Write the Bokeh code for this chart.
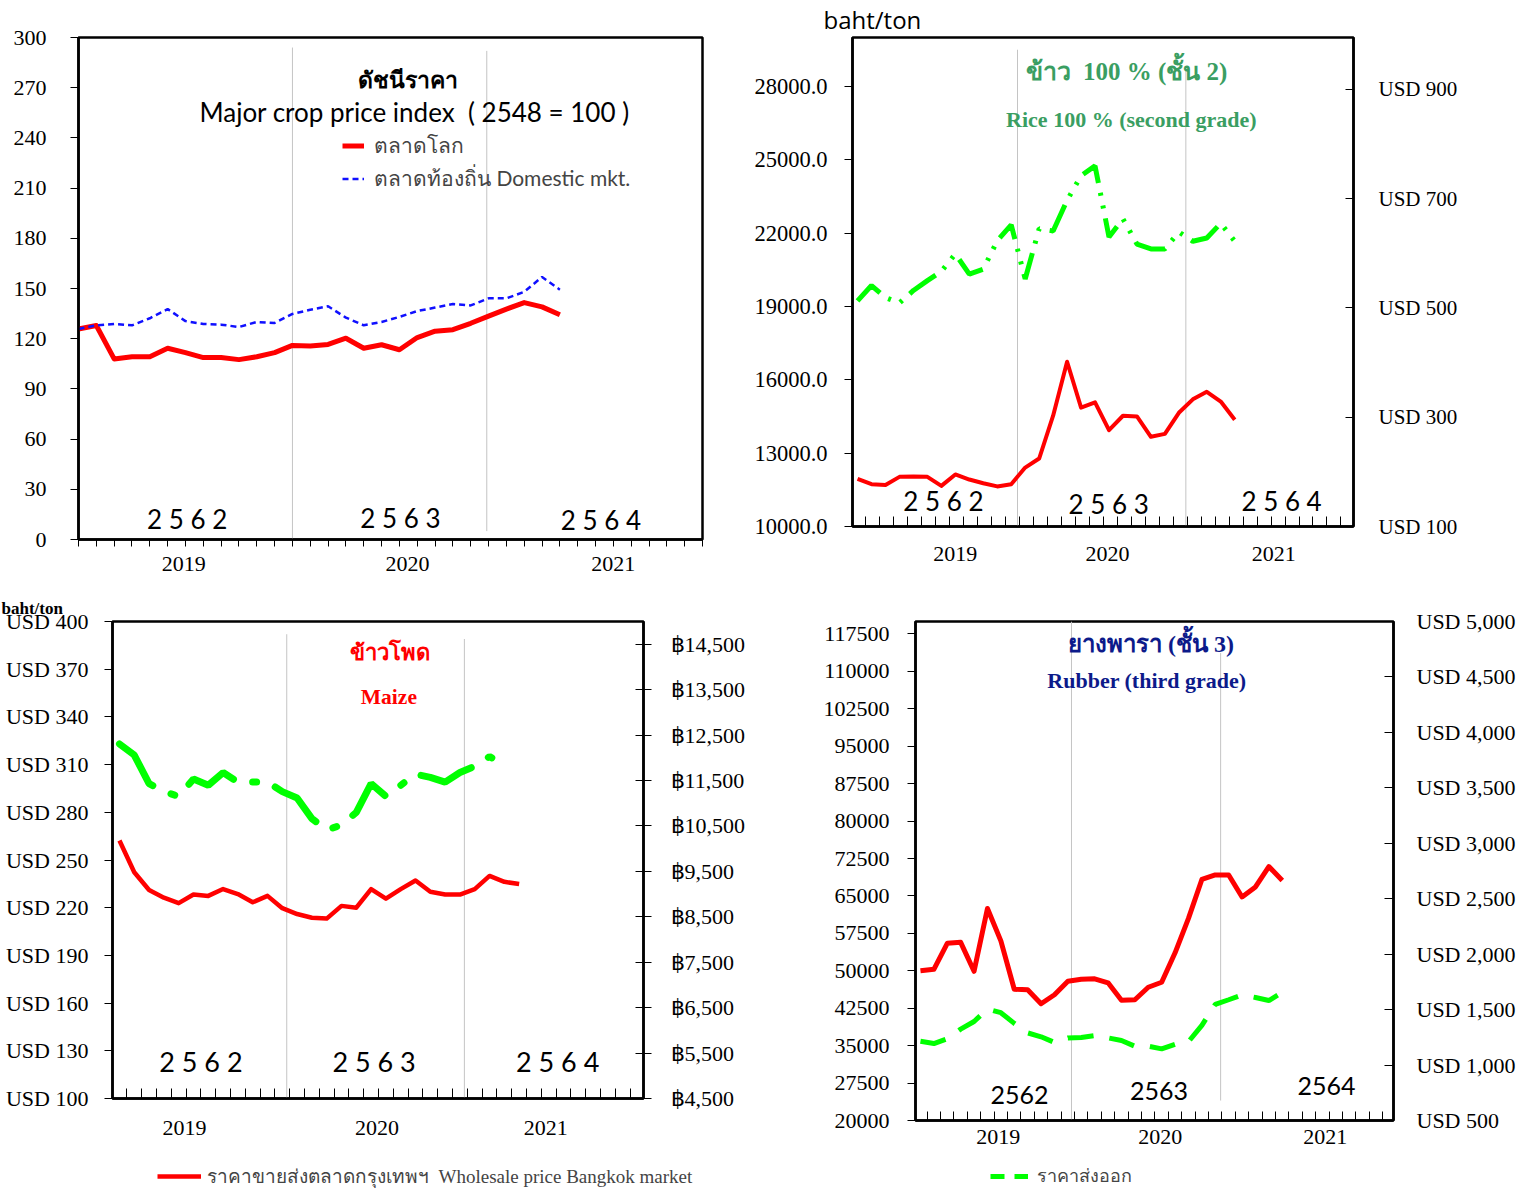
from bokeh.plotting import figure
from bokeh.models import (Range1d, LinearAxis, FixedTicker, Legend, LegendItem,
                          PrintfTickFormatter)
from bokeh.layouts import row, column
from bokeh.embed import file_html
from bokeh.resources import INLINE
from bokeh.core.properties import value

# ---------------- data ----------------
months = list(range(28))          # monthly points, first = start of series

fiscal_labels = ["2 5 6 2", "2 5 6 3", "2 5 6 4"]
fiscal_labels_rubber = ["2562", "2563", "2564"]
year_labels = ["2019", "2020", "2021"]

# Panel 1: major crop price index (2548 = 100)
index_world = [125.8, 127.9, 107.9, 109.2, 109.2, 114.3, 111.7, 108.7, 108.7, 107.5,
               109.2, 111.7, 116.0, 115.6, 116.6, 120.3, 114.3, 116.4, 113.4, 120.7,
               124.5, 125.4, 129.2, 133.5, 137.7, 141.6, 139.0, 134.3]
index_domestic = [125.8, 128.0, 128.8, 128.0, 132.2, 137.7, 130.5, 128.8, 128.4, 127.0,
                  130.0, 129.4, 134.8, 137.3, 139.4, 132.6, 128.0, 130.0, 133.0, 136.5,
                  138.6, 140.7, 139.9, 144.1, 144.1, 148.0, 156.9, 149.3]
index_ticks = [0, 30, 60, 90, 120, 150, 180, 210, 240, 270, 300]

# Panel 2: rice 100% (second grade)
rice_wholesale_baht = [11950, 11730, 11700, 12030, 12040, 12030, 11660, 12130, 11920, 11770,
                       11640, 11730, 12410, 12780, 14530, 16740, 14860, 15080, 13940, 14530,
                       14500, 13670, 13790, 14650, 15200, 15510, 15110, 14370]
rice_export_usd = [513, 541, 519, 509, 532, 550, 567, 599, 562, 571,
                   623, 652, 553, 645, 641, 697, 742, 760, 630, 663,
                   617, 608, 608, 639, 622, 628, 655, 622]
rice_baht_ticks = [10000, 13000, 16000, 19000, 22000, 25000, 28000]
rice_usd_ticks = [100, 300, 500, 700, 900]
rice_usd_labels = ["USD 100", "USD 300", "USD 500", "USD 700", "USD 900"]

# Panel 3: maize
maize_wholesale_baht = [10180, 9480, 9090, 8920, 8800, 8990, 8960, 9110, 9000, 8820,
                        8960, 8690, 8560, 8480, 8460, 8740, 8700, 9110, 8900, 9110,
                        9300, 9050, 8990, 8990, 9110, 9400, 9270, 9220]
maize_export_usd = [323, 316, 298, 293, 290, 301, 297, 305, 299, 299,
                    299, 293, 289, 276, 269, 272, 280, 298, 290, 297,
                    304, 302, 299, 305, 309, 315, 310]
maize_usd_ticks = [100, 130, 160, 190, 220, 250, 280, 310, 340, 370, 400]
maize_usd_labels = ["USD 100", "USD 130", "USD 160", "USD 190", "USD 220", "USD 250",
                    "USD 280", "USD 310", "USD 340", "USD 370", "USD 400"]
maize_baht_ticks = [4500, 5500, 6500, 7500, 8500, 9500, 10500, 11500, 12500, 13500, 14500]
maize_baht_labels = ["฿4,500", "฿5,500", "฿6,500", "฿7,500", "฿8,500", "฿9,500",
                     "฿10,500", "฿11,500", "฿12,500", "฿13,500", "฿14,500"]

# Panel 4: rubber (third grade)
rubber_wholesale_baht = [50000, 50300, 55500, 55700, 49900, 62500, 56000, 46300, 46200, 43400,
                         45200, 47900, 48300, 48400, 47600, 44100, 44200, 46700, 47700, 53600,
                         60500, 68300, 69200, 69200, 64800, 66800, 70900, 68100]
rubber_export_usd = [1214, 1194, 1238, 1324, 1393, 1506, 1472, 1376, 1290, 1255,
                     1204, 1245, 1249, 1266, 1245, 1221, 1170, 1170, 1146, 1187,
                     1211, 1358, 1547, 1589, 1633, 1609, 1582, 1657]
rubber_baht_ticks = [20000, 27500, 35000, 42500, 50000, 57500, 65000, 72500, 80000,
                     87500, 95000, 102500, 110000, 117500]
rubber_usd_ticks = [500, 1000, 1500, 2000, 2500, 3000, 3500, 4000, 4500, 5000]
rubber_usd_labels = ["USD 500", "USD 1,000", "USD 1,500", "USD 2,000", "USD 2,500",
                     "USD 3,000", "USD 3,500", "USD 4,000", "USD 4,500", "USD 5,000"]

wholesale_label = "ราคาขายส่งตลาดกรุงเทพฯ\u00a0\u00a0Wholesale price Bangkok market"
export_label = "ราคาส่งออก"

# ---------------- style ----------------
SERIF = "Liberation Serif"
SANS = "Lato"
OSANS = "Open Sans"
RED = "#ff0000"
GREEN = "#00ff00"
SEP = "#c4c4c4"
NB = "\u00a0"
RUBBER_DASH = "26 16"


def base_fig(fw, fh, bl, br, bt, bb, xr, yr):
    p = figure(frame_width=fw, frame_height=fh, min_border_left=bl, min_border_right=br,
               min_border_top=bt, min_border_bottom=bb,
               x_range=Range1d(*xr), y_range=Range1d(*yr),
               output_backend="svg", toolbar_location=None, tools="")
    p.grid.visible = False
    p.outline_line_color = "black"
    p.outline_line_width = 2.5
    p.outline_line_alpha = 1.0
    p.background_fill_color = "white"
    p.border_fill_color = "white"
    return p


def style_axis(ax, ticks, minor=None, overrides=None, tin=0, tout=8, standoff=18,
               size="22px"):
    ax.ticker = FixedTicker(ticks=ticks, minor_ticks=minor or [])
    if overrides:
        ax.major_label_overrides = overrides
    ax.major_tick_in = tin
    ax.major_tick_out = tout
    ax.minor_tick_in = 0
    ax.minor_tick_out = 0
    ax.major_label_standoff = standoff
    ax.major_label_text_font = SERIF
    ax.major_label_text_font_size = size
    ax.major_label_text_color = "black"
    ax.axis_line_color = "black"
    ax.axis_line_width = 2.5
    ax.major_tick_line_color = "black"
    ax.major_tick_line_width = 1
    ax.minor_tick_line_color = "black"
    ax.minor_tick_line_width = 1


def xaxis_years(p, pos, minor, tick_in, tick_out, standoff):
    ax = p.below[0]
    style_axis(ax, pos, minor=minor, overrides=dict(zip(pos, year_labels)),
               tin=0, tout=0, standoff=standoff, size="22px")
    ax.minor_tick_in = tick_in
    ax.minor_tick_out = tick_out


def texts(p, xs, ys, labels, font, size, color="black", bold=False, y_range_name="default"):
    p.text(x=xs, y=ys, text=labels, text_font=value(font), text_font_size=size,
           text_color=color, text_font_style="bold" if bold else "normal",
           text_align="center", text_baseline="middle", y_range_name=y_range_name)


def unit_title(p, text, font, size, bold, offset, standoff):
    p.title.text = text
    p.title.align = "left"
    p.title.vertical_align = "top"
    p.title.offset = offset
    p.title.standoff = standoff
    p.title.text_font = font
    p.title.text_font_size = size
    p.title.text_font_style = "bold" if bold else "normal"
    p.title.text_color = "black"


def legend_strip(width, height):
    f = figure(width=width, height=height, min_border=0, x_range=Range1d(0, 1),
               y_range=Range1d(0, 1), x_axis_location=None, y_axis_location=None,
               output_backend="svg", toolbar_location=None, tools="")
    f.grid.visible = False
    f.outline_line_color = None
    f.background_fill_color = "white"
    f.border_fill_color = "white"
    return f


# ================= Panel 1: price index =================
p1 = base_fig(624, 502, 78, 38, 37, 51, (0, 35), (0, 300))
style_axis(p1.left[0], index_ticks, tout=8, standoff=24)
xaxis_years(p1, [5.9, 18.45, 30.0], list(range(36)), 0, 7, 10)
p1.segment(x0=[12, 22.9], y0=[0, 5], x1=[12, 22.9], y1=[294, 292], color=SEP, line_width=1)
r_world = p1.line(months, index_world, color=RED, line_width=5, line_join="round")
r_dom = p1.line(months, index_domestic, color="#1010ff", line_width=2.5, line_dash="6 4")
texts(p1, [18.5], [275], ["ดัชนีราคา"], OSANS, "23px", bold=True)
texts(p1, [18.85], [255.5], ["Major crop price index" + NB * 2 + "( 2548 = 100 )"], SANS, "26px")
texts(p1, [6.1, 18.06, 29.3], [12, 13.1, 11.4], fiscal_labels, SANS, "26px")
leg1 = Legend(items=[LegendItem(label="ตลาดโลก", renderers=[r_world]),
                     LegendItem(label="ตลาดท้องถิ่น Domestic mkt.", renderers=[r_dom])],
              location=(264, 344), glyph_width=22, glyph_height=29, label_height=29,
              spacing=0, padding=0, margin=0, label_standoff=10,
              background_fill_alpha=0, border_line_alpha=0,
              label_text_font=SANS, label_text_font_size="21px")
p1.add_layout(leg1, "center")

# ================= Panel 2: rice =================
p2 = base_fig(501, 489, 112, 163, 37, 64, (-0.36, 35.5), (10000, 30000))
p2.extra_y_ranges = {"usd": Range1d(100, 995)}
style_axis(p2.left[0], rice_baht_ticks, tout=8, standoff=17, size="22.5px")
p2.left[0].formatter = PrintfTickFormatter(format="%.1f")
ax2r = LinearAxis(y_range_name="usd")
style_axis(ax2r, rice_usd_ticks, overrides=dict(zip(rice_usd_ticks, rice_usd_labels)),
           tin=8, tout=0, standoff=25, size="21px")
p2.add_layout(ax2r, "right")
xaxis_years(p2, [7.0, 17.9, 29.8], [k + 0.6 for k in range(35)], 10, 0, 20)
p2.segment(x0=[11.45, 23.5], y0=[10000, 10000], x1=[11.45, 23.5], y1=[29500, 28800],
           color=SEP, line_width=1)
p2.line(months, rice_wholesale_baht, color=RED, line_width=4, line_join="round")
p2.line(months, rice_export_usd, color=GREEN, line_width=5, line_dash="32 10 3 10 3 10",
        y_range_name="usd")
texts(p2, [19.25], [28612], ["ข้าว" + NB * 2 + "100 % (ชั้น 2)"], SERIF, "25px",
      color="#3a9e62", bold=True)
texts(p2, [19.6], [26653], ["Rice 100 % (second grade)"], SERIF, "22px", color="#3a9e62", bold=True)
texts(p2, [6.15, 17.97, 30.35], [11061, 10939, 11061], fiscal_labels, SANS, "26px")
unit_title(p2, "baht/ton", OSANS, "24px", False, -29, 0)

# ================= Panel 3: maize =================
p3 = base_fig(531, 477, 112, 137, 31, 64, (-0.47, 35.4), (100, 400))
p3.extra_y_ranges = {"baht": Range1d(4500, 15000)}
style_axis(p3.left[0], maize_usd_ticks, overrides=dict(zip(maize_usd_ticks, maize_usd_labels)),
           tout=8, standoff=16)
ax3r = LinearAxis(y_range_name="baht")
style_axis(ax3r, maize_baht_ticks, overrides=dict(zip(maize_baht_ticks, maize_baht_labels)),
           tin=8, tout=8, standoff=19)
p3.add_layout(ax3r, "right")
xaxis_years(p3, [4.4, 17.4, 28.8], [k + 0.5 for k in range(35)], 10, 0, 22)
p3.segment(x0=[11.3, 23.3], y0=[100, 100], x1=[11.3, 23.3], y1=[392, 389], color=SEP, line_width=1)
p3.line(months, maize_wholesale_baht, color=RED, line_width=4.5, line_join="round",
        y_range_name="baht")
p3.line(months[:len(maize_export_usd)], maize_export_usd, color=GREEN, line_width=7,
        line_dash="55 20 4 20", line_cap="round")
texts(p3, [18.3], [380.5], ["ข้าวโพด"], SERIF, "22px", color=RED, bold=True)
texts(p3, [18.2], [352.8], ["Maize"], SERIF, "21.5px", color=RED, bold=True)
texts(p3, [5.5, 17.2, 29.6], [123.3, 123.3, 123.3], fiscal_labels, SANS, "27px")
unit_title(p3, "baht/ton", SERIF, "17px", True, -111, 4)

# ================= Panel 4: rubber =================
p4 = base_fig(478, 499, 135, 123, 31, 43, (-0.37, 35.3), (20000, 120000))
p4.extra_y_ranges = {"usd": Range1d(500, 5000)}
style_axis(p4.left[0], rubber_baht_ticks, tout=8, standoff=18)
p4.left[0].formatter = PrintfTickFormatter(format="%d")
ax4r = LinearAxis(y_range_name="usd")
style_axis(ax4r, rubber_usd_ticks, overrides=dict(zip(rubber_usd_ticks, rubber_usd_labels)),
           tin=9, tout=0, standoff=23)
p4.add_layout(ax4r, "right")
xaxis_years(p4, [5.8, 17.9, 30.2], [k + 0.5 for k in range(35)], 9, 0, 9)
p4.segment(x0=[11.27, 22.4], y0=[20000, 24000], x1=[11.27, 22.4], y1=[120000, 113700],
           color=SEP, line_width=1)
p4.line(months, rubber_wholesale_baht, color=RED, line_width=5, line_join="round")
p4.line(months, rubber_export_usd, color=GREEN, line_width=5, line_dash=RUBBER_DASH,
        y_range_name="usd")
texts(p4, [17.2], [115500], ["ยางพารา (ชั้น 3)"], SERIF, "24px", color="#0c1a8a", bold=True)
texts(p4, [16.9], [108090], ["Rubber (third grade)"], SERIF, "22px", color="#0c1a8a", bold=True)
texts(p4, [7.4, 17.8, 30.3], [25205, 26006, 27007], fiscal_labels_rubber, SANS, "25px")

# ================= shared legend strip (below the lower panels) =================
# The series are drawn again here only as legend keys (the data lie outside the strip's range).
lf3 = legend_strip(780, 25)
key_wholesale = lf3.line(months, maize_wholesale_baht, color=RED, line_width=4.5)
lf3.add_layout(Legend(items=[LegendItem(label=wholesale_label, renderers=[key_wholesale])],
                      location=(157, -3), glyph_width=44, glyph_height=20, label_height=20,
                      padding=0, margin=0, label_standoff=6, background_fill_alpha=0,
                      border_line_alpha=0, label_text_font=SERIF,
                      label_text_font_size="19px"), "center")
lf4 = legend_strip(736, 25)
key_export = lf4.line(months, rubber_export_usd, color=GREEN, line_width=5, line_dash="14 10")
lf4.add_layout(Legend(items=[LegendItem(label=export_label, renderers=[key_export])],
                      location=(210, -2), glyph_width=38, glyph_height=20, label_height=20,
                      padding=0, margin=0, label_standoff=9, background_fill_alpha=0,
                      border_line_alpha=0, label_text_font=OSANS,
                      label_text_font_size="18px"), "center")

layout = column(row(p1, p2), row(p3, p4), row(lf3, lf4))
open("out.html", "w").write(file_html(layout, INLINE))
